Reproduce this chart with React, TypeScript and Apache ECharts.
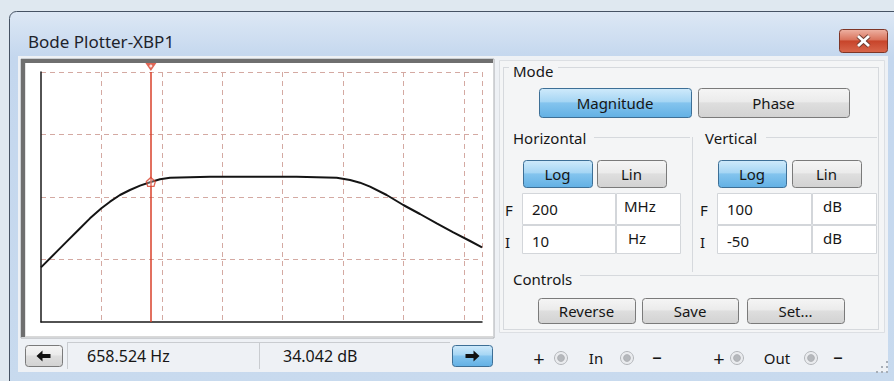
import React, { useEffect, useRef } from "react";
import * as echarts from "echarts";

const WIDTH = 894;
const HEIGHT = 381;

// Bode magnitude curve (frequency in Hz, magnitude in dB)
const frequenciesHz = [
  10, 18.2, 26.6, 41.5, 64.7, 100, 139, 203, 297, 436, 658.524, 933, 1370, 6280, 171000, 787000, 1310000, 1910000,
  2800000, 5280000, 9950000, 18800000, 35600000, 67000000, 127000000, 200000000,
];
const magnitudesDb = [
  -17.2, -7.8, -1.8, 5.2, 12.2, 18.2, 22.2, 26.2, 29.2, 31.8, 34.042, 35.6, 36.6, 37.2, 37.2, 36.6, 35.2, 33.6, 31.2,
  26.2, 20.2, 14.8, 9.2, 3.8, -1.4, -5.2,
];

const cursorFrequencyHz = 658.524;
const cursorMagnitudeDb = 34.042;

const horizontalRangeHz = [10, 200e6];
const verticalRangeDb = [-50, 100];
const verticalDivisions = 4;

const horizontalFinal = ["200", "MHz"];
const horizontalInitial = ["10", "Hz"];
const verticalFinal = ["100", "dB"];
const verticalInitial = ["-50", "dB"];

const FONT = '"Noto Sans", "Open Sans", sans-serif';
const RED = "#d8402a";
const GRID_DASH = "#d4a9a2";

const grad = (stops: [number, string][]) =>
  new echarts.graphic.LinearGradient(0, 0, 0, 1, stops.map(([offset, color]) => ({ offset, color })));

const text = (x: number, y: number, s: string, size = 15, align = "left", color = "#161616", extra: any = {}) => ({
  type: "text",
  x,
  y,
  z: 20,
  silent: true,
  style: {
    text: s,
    fill: color,
    fontSize: size,
    fontFamily: FONT,
    align,
    verticalAlign: "middle",
    textAlign: align,
    textVerticalAlign: "middle",
    ...extra,
  },
});

const rect = (x: number, y: number, w: number, h: number, style: any, r: any = 0, z = -5) => ({
  type: "rect",
  z,
  silent: true,
  shape: { x, y, width: w, height: h, r },
  style,
});

const line = (x1: number, y1: number, x2: number, y2: number, stroke = "#d6d9dd", lineWidth = 1, z = -3) => ({
  type: "line",
  z,
  silent: true,
  shape: { x1, y1, x2, y2 },
  style: { stroke, lineWidth },
});

const button = (x: number, y: number, w: number, h: number, label: string, active: boolean, size = 15) => [
  rect(
    x + 0.5,
    y + 0.5,
    w,
    h,
    active
      ? {
          fill: grad([
            [0, "#cfeafb"],
            [0.45, "#a6d6f4"],
            [0.5, "#84c4ee"],
            [1, "#62b0e4"],
          ]),
          stroke: "#3d6f96",
          lineWidth: 1,
        }
      : {
          fill: grad([
            [0, "#f5f5f5"],
            [0.45, "#ebebeb"],
            [0.5, "#dedede"],
            [1, "#d2d2d2"],
          ]),
          stroke: "#7a7a7a",
          lineWidth: 1,
        },
    3,
    -2
  ),
  text(x + w / 2, y + h / 2 + 0.5, label, size, "center"),
];

const field = (x: number, y: number, w: number, h: number) =>
  rect(x + 0.5, y + 0.5, w, h, { fill: "#ffffff", stroke: "#d3d6da", lineWidth: 1 }, 0, -2);

const connector = (cx: number, cy: number) => [
  { type: "circle", z: -1, silent: true, shape: { cx, cy, r: 6.5 }, style: { fill: "#e9ebee", stroke: "#b3b6ba", lineWidth: 1 } },
  { type: "circle", z: 0, silent: true, shape: { cx, cy, r: 3.5 }, style: { fill: "#b5b8bc", stroke: "#9a9da1", lineWidth: 0.5 } },
];

const arrow = (cx: number, cy: number, dir: number) => ({
  type: "polygon",
  z: 0,
  silent: true,
  shape: {
    points: [
      [cx - 7 * dir, cy],
      [cx - 1 * dir, cy - 5.5],
      [cx - 1 * dir, cy - 2],
      [cx + 7 * dir, cy - 2],
      [cx + 7 * dir, cy + 2],
      [cx - 1 * dir, cy + 2],
      [cx - 1 * dir, cy + 5.5],
    ],
  },
  style: { fill: "#111111" },
});

function buildOption() {
  const curve = frequenciesHz.map((f, i) => [Math.log10(f), magnitudesDb[i]]);
  const cursorX = Math.log10(cursorFrequencyHz);
  const yInterval = (verticalRangeDb[1] - verticalRangeDb[0]) / verticalDivisions;

  const chrome: any[] = [
    // window frame
    rect(9.5, 11.5, 900, 380, {
      fill: grad([
        [0, "#dde8f5"],
        [0.12, "#c4d7ee"],
        [1, "#c8daee"],
      ]),
      stroke: "#465364",
      lineWidth: 1,
    }, [7, 0, 0, 0], -10),
    // client area
    rect(18, 56, 870, 316, { fill: "#eef1f5" }, 0, -9),
    // close button
    rect(839.5, 29.5, 48, 23, {
      fill: grad([
        [0, "#eeb2a3"],
        [0.45, "#d9735c"],
        [0.5, "#c7442a"],
        [1, "#d8674c"],
      ]),
      stroke: "#7e3526",
      lineWidth: 1,
    }, 3, -2),
    line(858, 36, 869, 46, "#6b3a30", 4.5, 0),
    line(869, 36, 858, 46, "#6b3a30", 4.5, 0),
    line(858, 36, 869, 46, "#ffffff", 2.8, 1),
    line(869, 36, 858, 46, "#ffffff", 2.8, 1),
    text(28, 41, "Bode Plotter-XBP1", 17, "left", "#1e232b"),

    // plot frame (sunken)
    rect(21, 59, 473, 279, { fill: "#ffffff", stroke: "#a9acb0", lineWidth: 1 }, 0, -8),
    line(21, 61, 493, 61, "#6f6f6f", 4, -7),
    line(23, 59, 23, 337, "#6f6f6f", 4, -7),
    line(25.5, 63, 25.5, 336, "#e4e4e4", 1, -7),
    line(25, 336.5, 493, 336.5, "#d9d9d9", 1, -7),

    // bottom readout bar
    ...button(25, 345, 37, 21, "", false),
    arrow(43.5, 356, 1),
    line(67.5, 343, 67.5, 369, "#c9ccd0", 1, -2),
    line(67, 342.5, 450, 342.5, "#c9ccd0", 1, -2),
    line(259.5, 343, 259.5, 369, "#c9ccd0", 1, -2),
    text(87, 356, `${cursorFrequencyHz.toFixed(3)} Hz`, 16),
    text(283, 356, `${cursorMagnitudeDb.toFixed(3)} dB`, 16),
    ...button(452, 345, 40, 21, "", true),
    arrow(472.5, 356, -1),

    // right control panel
    rect(499.5, 60.5, 385, 272, { fill: "#f4f5f6", stroke: "#dcdfe3", lineWidth: 1 }, 0, -8),
    line(503, 67.5, 509, 67.5),
    line(558, 67.5, 878, 67.5),
    line(503.5, 67, 503.5, 329),
    line(878.5, 67, 878.5, 329),
    line(503, 329.5, 879, 329.5),
    line(594, 137.5, 690, 137.5),
    line(692.5, 137, 692.5, 272),
    line(766, 137.5, 877, 137.5),
    line(580, 275.5, 878, 275.5),

    text(513, 71, "Mode", 15),
    ...button(539, 88, 152, 29, "Magnitude", true),
    ...button(698, 88, 151, 29, "Phase", false),

    text(513, 138, "Horizontal", 15),
    text(705, 138, "Vertical", 15),
    ...button(523, 160, 69, 27, "Log", true),
    ...button(597, 160, 69, 27, "Lin", false),
    ...button(718, 160, 68, 27, "Log", true),
    ...button(792, 160, 69, 27, "Lin", false),

    field(522, 193, 93, 31),
    field(616, 193, 64, 31),
    field(522, 225, 93, 28),
    field(616, 225, 64, 28),
    field(717, 193, 94, 31),
    field(812, 193, 64, 31),
    field(717, 225, 94, 28),
    field(812, 225, 64, 28),
    text(505, 210, "F", 15),
    text(505, 242, "I", 15),
    text(700, 210, "F", 15),
    text(700, 242, "I", 15),
    text(532, 209, horizontalFinal[0], 15),
    text(624, 206, horizontalFinal[1], 15),
    text(532, 241, horizontalInitial[0], 15),
    text(628, 238, horizontalInitial[1], 15),
    text(727, 209, verticalFinal[0], 15),
    text(823, 206, verticalFinal[1], 15),
    text(727, 241, verticalInitial[0], 15),
    text(823, 238, verticalInitial[1], 15),

    text(513, 279, "Controls", 15),
    ...button(538, 298, 97, 25, "Reverse", false),
    ...button(642, 298, 96, 25, "Save", false),
    ...button(747, 298, 97, 25, "Set...", false),

    // terminals
    text(539, 358, "+", 20, "center"),
    ...connector(561, 358),
    text(596, 358, "In", 15, "center"),
    ...connector(627, 358),
    text(657, 357, "\u2013", 19, "center"),
    text(719, 358, "+", 20, "center"),
    ...connector(737, 358),
    text(777, 358, "Out", 15, "center"),
    ...connector(811, 358),
    text(838, 357, "\u2013", 19, "center"),

    // resize grip
    ...[
      [877, 372],
      [882, 372],
      [887, 372],
      [882, 367],
      [887, 367],
      [887, 362],
    ].map(([x, y]) => rect(x - 1, y - 1, 2, 2, { fill: "#a7aeb7" }, 0, 0)),
  ];

  return {
    animation: false,
    backgroundColor: "#dfe8f0",
    grid: { left: 41, right: WIDTH - 482, top: 72, bottom: HEIGHT - 322, containLabel: false },
    xAxis: {
      type: "value",
      min: Math.log10(horizontalRangeHz[0]),
      max: Math.log10(horizontalRangeHz[1]),
      interval: 1,
      axisLine: { show: true, onZero: false, lineStyle: { color: "#1a1a1a", width: 1.5 } },
      axisTick: { show: false },
      axisLabel: { show: false },
      splitLine: { show: true, showMinLine: false, lineStyle: { color: GRID_DASH, type: [5, 4], width: 1 } },
    },
    yAxis: {
      type: "value",
      min: verticalRangeDb[0],
      max: verticalRangeDb[1],
      interval: yInterval,
      axisLine: { show: true, onZero: false, lineStyle: { color: "#1a1a1a", width: 1.5 } },
      axisTick: { show: false },
      axisLabel: { show: false },
      splitLine: { show: true, showMinLine: false, lineStyle: { color: GRID_DASH, type: [5, 4], width: 1 } },
    },
    graphic: { elements: chrome },
    series: [
      {
        type: "line",
        data: curve,
        showSymbol: false,
        smooth: false,
        lineStyle: { color: "#141414", width: 2 },
        silent: true,
        z: 3,
        markLine: {
          silent: true,
          symbol: ["none", "none"],
          label: { show: false },
          lineStyle: { color: RED, width: 1.5, type: "solid" },
          data: [{ xAxis: cursorX }],
        },
      },
      {
        type: "scatter",
        silent: true,
        z: 5,
        data: [[cursorX, verticalRangeDb[1]]],
        symbol: "triangle",
        symbolRotate: 180,
        symbolSize: [11, 8],
        symbolOffset: [0, -5],
        itemStyle: { color: RED },
      },
      {
        type: "scatter",
        silent: true,
        z: 6,
        data: [[cursorX, verticalRangeDb[1]]],
        symbol: "circle",
        symbolSize: 3,
        symbolOffset: [0, -6],
        itemStyle: { color: "#ffffff" },
      },
      {
        type: "scatter",
        silent: true,
        z: 6,
        data: [[cursorX, cursorMagnitudeDb]],
        symbol: "path://M5,0 L10,4.5 L8.5,10 L1.5,10 L0,4.5 Z",
        symbolSize: [9, 9],
        itemStyle: { color: "rgba(255,255,255,0.35)", borderColor: RED, borderWidth: 1.3 },
      },
    ],
  };
}

export default function App() {
  const ref = useRef<HTMLDivElement>(null);
  useEffect(() => {
    document.body.style.margin = "0";
    const chart = echarts.init(ref.current!, null, { renderer: "svg", width: WIDTH, height: HEIGHT });
    chart.setOption(buildOption() as any);
    return () => chart.dispose();
  }, []);
  return <div ref={ref} style={{ width: WIDTH, height: HEIGHT }} />;
}
